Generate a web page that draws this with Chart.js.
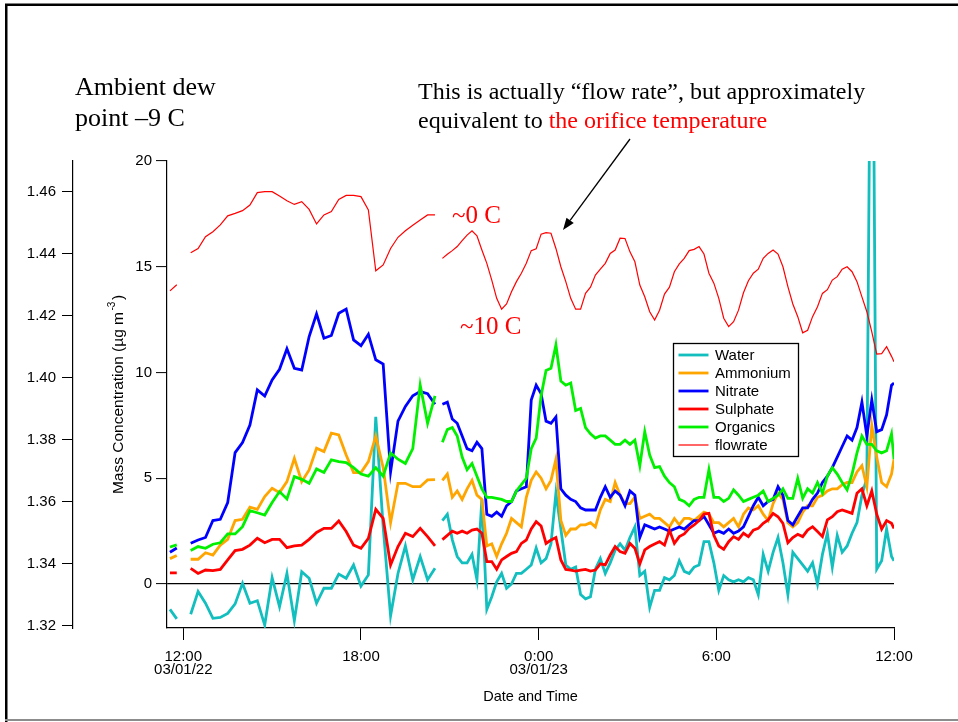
<!DOCTYPE html>
<html>
<head>
<meta charset="utf-8">
<script src="https://cdn.jsdelivr.net/npm/chart.js@4.4.1/dist/chart.umd.min.js"></script>
<style>
  html, body { margin: 0; padding: 0; background: #fff; }
  canvas { display: block; }
</style>
</head>
<body>
<canvas id="c" width="958" height="722"></canvas>
<script>
// Sample times in hours from 03/01/22 00:00.
// A short run before noon, 15-minute averages until 20:30, then 10-minute averages.
function run(start, stepMin, n) {
  const out = [];
  for (let i = 0; i < n; i++) out.push(+(start + i * stepMin / 60).toFixed(4));
  return out;
}
const sampleHours = [11.55, 11.78, 12.0, ...run(12.25, 15, 34), 20.62, ...run(20.75, 10, 92), 36.0];

// Species mass concentrations (ug m-3); null marks a break in the record.
const water = [-1.2, -1.65, null,
  -1.43, -0.36, -0.91, -1.62, -1.58, -1.39, -0.94, 0.03, -0.91, -0.79, -1.94, 0.3, -1.07, 0.5, -1.73, 0.58,
  0.27, -0.91, -0.2, -0.2, 0.47, 0.27, 0.9, -0.1, 0.43, 7.9, 2.7, -1.5, 0.5, 1.8, 0.2, 1.3, 0.2, 0.74,
  null,
  3.0, 3.3, 2.1, 1.3, 1.0, 1.0, 1.4, 0.2, 4.0, -1.2,
  -0.6, 0.1, 0.5, -0.2, 0.0, 0.5, 0.5, 0.7, 0.9, 1.7,
  1.0, 1.2, 1.9, 4.3, 2.6, 0.9, 0.7, 0.8, -0.5, -0.7,
  -0.6, 0.7, 1.2, 0.5, 1.0, 1.6, 1.9, 1.6, 2.2, 2.7,
  0.4, 0.6, -1.1, -0.3, -0.3, 0.3, 0.2, 0.4, 1.1, 0.6,
  0.5, 0.8, 0.9, 2.0, 2.0, 1.0, -0.3, 0.4, 0.2, 0.1,
  0.2, 0.1, 0.3, 0.2, -0.5, 1.4, 0.6, 1.5, 2.2, 1.0,
  -0.5, 1.5, 1.2, 0.9, 0.6, 1.0, 0.0, 1.4, 2.4, 0.8,
  2.3, 1.5, 1.8, 2.4, 2.9, 4.2, 5.0, 36, 0.7, 1.1,
  2.6, 1.3, 1.1];

const ammonium = [1.2, 1.35, null,
  1.17, 1.17, 1.48, 1.37, 1.84, 2.11, 3.0, 3.06, 3.63, 3.53, 4.13, 4.53, 4.32, 4.84, 5.94, 4.84,
  5.39, 6.42, 6.26, 7.13, 7.05, 6.1, 5.27, 5.27, 5.79, 7.0, 5.5, 2.9, 4.76, 4.76, 4.6, 4.6, 4.92, 4.94,
  null,
  4.9, 5.2, 4.1, 4.4, 4.0, 4.5, 4.9, 4.2, 4.0, 1.8,
  1.9, 1.3, 1.9, 2.4, 3.1, 2.9, 2.7, 4.1, 4.9, 5.3,
  5.0, 4.5, 4.9, 5.9, 3.0, 2.3, 2.6, 2.6, 2.8, 2.8,
  2.9, 2.7, 3.5, 4.0, 3.9, 4.8, 4.2, 3.8, 3.8, 4.1,
  3.1, 3.2, 3.3, 3.1, 3.1, 2.9, 2.7, 3.1, 2.8, 3.1,
  3.1, 3.0, 3.2, 3.4, 3.3, 2.9, 2.9, 2.7, 2.9, 3.1,
  2.7, 3.3, 3.6, 3.5, 3.7, 3.3, 3.0, 3.8, 4.3, 4.0,
  2.9, 2.7, 2.9, 3.4, 3.7, 3.7, 4.1, 4.2, 4.4, 4.5,
  4.5, 4.7, 4.8, 4.8, 5.3, 5.6, 4.6, 7.5, 6.0, 4.8,
  4.6, 5.2, 5.9];

const nitrate = [1.5, 1.7, null,
  1.93, 2.08, 2.2, 3.0, 3.06, 3.85, 6.21, 6.69, 7.52, 9.18, 8.89, 9.65, 10.15, 11.12, 10.2, 10.12,
  11.7, 12.77, 11.62, 11.75, 12.8, 13.0, 11.54, 11.27, 11.81, 10.6, 10.4, 5.3, 7.7, 8.4, 8.9, 9.1, 9.0, 8.5,
  null,
  8.5, 8.6, 7.8, 7.6, 7.0, 6.4, 6.3, 6.7, 6.4, 3.3,
  3.2, 3.4, 3.2, 3.7, 3.9, 4.4, 4.5, 4.6, 8.7, 9.4,
  9.0, 7.7, 7.6, 7.9, 4.5, 4.2, 4.0, 3.9, 3.6, 3.5,
  3.5, 3.5, 4.1, 4.6, 4.1, 4.4, 4.2, 3.7, 4.4, 4.2,
  2.2, 2.8, 2.7, 2.6, 2.7, 2.6, 2.5, 2.6, 2.7, 2.6,
  2.8, 3.0, 3.0, 3.2, 2.8, 2.4, 2.5, 2.4, 2.6, 2.4,
  2.5, 2.7, 3.2, 3.7, 4.1, 3.7, 3.9, 4.0, 4.6, 4.2,
  3.0, 2.8, 3.2, 3.6, 3.6, 4.0, 4.3, 4.8, 5.1, 5.5,
  6.0, 6.5, 7.0, 6.8, 7.4, 8.6, 7.0, 8.7, 7.2, 7.3,
  8.0, 9.4, 9.5];

const sulphate = [0.53, 0.53, null,
  0.74, 0.5, 0.66, 0.63, 0.69, 1.14, 1.58, 1.64, 1.84, 2.16, 1.95, 2.11, 2.11, 1.72, 1.8, 1.84,
  2.11, 2.44, 2.63, 2.63, 2.98, 2.48, 1.84, 1.69, 2.16, 3.53, 3.1, 0.9, 1.77, 2.4, 2.24, 2.63, 2.24, 1.8,
  null,
  2.1, 2.3, 2.5, 2.4, 2.5, 2.4, 2.55, 2.6, 2.4, 1.06,
  1.06, 0.7, 1.14, 1.3, 1.45, 1.53, 1.92, 2.08, 2.6, 2.95,
  2.74, 1.92, 2.08, 2.2, 1.14, 0.69, 0.66, 0.61, 0.66, 0.69,
  0.61, 0.66, 0.95, 0.9, 1.37, 1.77, 1.53, 1.45, 1.92, 1.69,
  0.95, 1.61, 1.77, 1.89, 2.0, 1.84, 2.55, 1.92, 2.24, 2.37,
  2.63, 2.79, 3.0, 3.31, 3.34, 2.3, 1.8, 1.64, 2.0, 2.24,
  2.11, 2.4, 2.24, 2.55, 2.63, 2.87, 3.03, 3.34, 3.18, 2.87,
  1.95, 2.2, 2.35, 2.24, 2.55, 2.71, 2.48, 2.24, 3.03, 3.18,
  3.42, 3.5, 3.42, 3.34, 4.29, 4.5, 3.7, 4.4, 3.3, 2.6,
  3.0, 2.87, 2.63];

const organics = [1.75, 1.85, null,
  1.58, 1.77, 1.69, 1.88, 1.95, 2.37, 2.37, 2.71, 3.47, 3.37, 3.26, 3.85, 4.37, 4.02, 5.08, 4.95,
  4.76, 5.44, 5.27, 5.87, 5.79, 5.74, 5.5, 5.2, 5.1, 5.5, 5.1, 6.2, 5.9, 5.7, 6.4, 9.4, 7.6, 8.9,
  null,
  6.7, 7.3, 7.4, 7.0, 6.0, 5.4, 5.7, 5.1, 4.5, 4.1,
  4.1, 4.05, 4.0, 3.9, 3.9, 4.4, 4.7, 5.0, 6.4, 6.9,
  8.9, 10.1, 10.2, 11.3, 9.6, 9.4, 9.5, 8.2, 8.3, 7.4,
  7.1, 6.9, 7.0, 7.0, 6.8, 6.6, 6.6, 6.8, 6.6, 6.8,
  5.6, 7.2, 6.1, 5.5, 5.55, 5.1, 4.8, 4.6, 4.0, 3.9,
  3.7, 4.0, 4.1, 4.1, 5.4, 4.1, 4.1, 3.9, 4.05, 4.45,
  4.2, 3.9, 4.0, 4.1, 4.2, 4.4, 3.9, 4.05, 4.2, 4.5,
  4.05, 4.05, 5.0, 4.05, 4.5, 4.3, 4.8, 4.3, 5.1, 5.5,
  5.2, 4.8, 4.45, 5.2, 6.2, 7.0, 6.6, 6.6, 6.3, 6.2,
  6.3, 7.1, 5.9];

// Inlet flow rate (left-hand axis).
const flowrate = [1.428, 1.430, null,
  1.4403, 1.4417, 1.4455, 1.4471, 1.4493, 1.4522, 1.4530, 1.4539, 1.4557, 1.4597, 1.4600, 1.4600,
  1.4586, 1.4571, 1.4559, 1.4568, 1.4543, 1.4496, 1.4525, 1.4536, 1.4575, 1.4588, 1.4588, 1.4584,
  1.4541, 1.4345, 1.4364, 1.4417, 1.4453, 1.4474, 1.4492, 1.4509, 1.4525, 1.4525,
  null,
  1.4385, 1.4398, 1.4410, 1.4423, 1.4442, 1.4460, 1.4474, 1.4458, 1.4412, 1.4369,
  1.4315, 1.4256, 1.4221, 1.4238, 1.4277, 1.4310, 1.4337, 1.4369, 1.4410, 1.4416,
  1.4463, 1.4468, 1.4466, 1.4417, 1.4358, 1.4310, 1.4256, 1.4221, 1.4221, 1.4272,
  1.4292, 1.4331, 1.4350, 1.4369, 1.4401, 1.4412, 1.4450, 1.4449, 1.4406, 1.4374,
  1.4299, 1.4261, 1.4213, 1.4186, 1.4218, 1.4270, 1.4292, 1.4342, 1.4367, 1.4385,
  1.4410, 1.4414, 1.4423, 1.4399, 1.4337, 1.4305, 1.4256, 1.4192, 1.4165, 1.4181,
  1.4218, 1.4274, 1.4313, 1.4337, 1.4350, 1.4385, 1.4401, 1.4412, 1.4399, 1.4358,
  1.4294, 1.4238, 1.4197, 1.4145, 1.4153, 1.4197, 1.4229, 1.4272, 1.4284, 1.4315,
  1.4326, 1.4350, 1.4358, 1.4342, 1.4310, 1.4261, 1.4213, 1.4148, 1.4076, 1.4078,
  1.4100, 1.4069, 1.4052];

// Axis ticks
const timeTicks = [12, 18, 24, 30, 36];
const timeTickLabels = [['12:00', '03/01/22'], ['18:00'], ['0:00', '03/01/23'], ['6:00'], ['12:00']];
const massTicks = [0, 5, 10, 15, 20];
const flowTicks = [1.32, 1.34, 1.36, 1.38, 1.40, 1.42, 1.44, 1.46];

const SANS = '"Liberation Sans", Arial, Helvetica, sans-serif';
const SERIF = '"Liberation Serif", "Times New Roman", Times, serif';
Chart.defaults.font.family = SANS;
Chart.defaults.color = '#000';

const toPoints = arr => arr.map((v, i) => ({ x: sampleHours[i], y: v }));

function series(label, values, color, width, axis, order) {
  return {
    label, data: toPoints(values), borderColor: color, backgroundColor: color,
    borderWidth: width, yAxisID: axis, order, spanGaps: false,
    pointRadius: 0, tension: 0, fill: false, borderJoinStyle: 'miter'
  };
}

// Free text, arrow, legend box, frame and the rotated y title.
const decorations = {
  id: 'decorations',
  afterDraw(chart) {
    const ctx = chart.ctx;
    ctx.save();

    // page frame
    ctx.strokeStyle = '#000';
    ctx.lineWidth = 2.5;
    ctx.beginPath();
    ctx.moveTo(6.25, 722); ctx.lineTo(6.25, 4.75); ctx.lineTo(958, 4.75);
    ctx.stroke();
    ctx.strokeStyle = '#8c8c8c';
    ctx.lineWidth = 2;
    ctx.beginPath(); ctx.moveTo(5, 720); ctx.lineTo(958, 720); ctx.stroke();

    // notes
    ctx.fillStyle = '#000';
    ctx.textBaseline = 'alphabetic';
    ctx.textAlign = 'left';
    ctx.font = '26px ' + SERIF;
    ctx.fillText('Ambient dew', 75, 95);
    ctx.fillText('point \u20139 C', 75, 126);

    ctx.font = '24px ' + SERIF;
    ctx.fillText('This is actually \u201Cflow rate\u201D, but approximately', 418, 99);
    const lead = 'equivalent to ';
    ctx.fillText(lead, 418, 128);
    ctx.fillStyle = '#ff0000';
    ctx.fillText('the orifice temperature', 418 + ctx.measureText(lead).width, 128);

    ctx.font = '25px ' + SERIF;
    ctx.fillText('~0 C', 452, 223);
    ctx.fillText('~10 C', 460, 334);

    // arrow
    const x0 = 630, y0 = 139, x1 = 563, y1 = 230;
    const ang = Math.atan2(y1 - y0, x1 - x0);
    const headL = 12, headW = 4.5;
    const bx = x1 - headL * Math.cos(ang), by = y1 - headL * Math.sin(ang);
    ctx.strokeStyle = '#000'; ctx.fillStyle = '#000'; ctx.lineWidth = 1.3;
    ctx.beginPath(); ctx.moveTo(x0, y0); ctx.lineTo(bx, by); ctx.stroke();
    ctx.beginPath();
    ctx.moveTo(x1, y1);
    ctx.lineTo(bx + headW * Math.sin(ang), by - headW * Math.cos(ang));
    ctx.lineTo(bx - headW * Math.sin(ang), by + headW * Math.cos(ang));
    ctx.closePath(); ctx.fill();

    // legend
    const lx = 673.5, ly = 343.5, lw = 125, lh = 113;
    ctx.fillStyle = '#fff';
    ctx.fillRect(lx, ly, lw, lh);
    ctx.strokeStyle = '#000'; ctx.lineWidth = 1.3;
    ctx.strokeRect(lx, ly, lw, lh);
    ctx.font = '15px ' + SANS;
    ctx.textBaseline = 'middle';
    chart.data.datasets.forEach((ds, i) => {
      const y = 355 + i * 18;
      ctx.strokeStyle = ds.borderColor;
      ctx.lineWidth = ds.borderWidth;
      ctx.beginPath(); ctx.moveTo(678.5, y); ctx.lineTo(708.5, y); ctx.stroke();
      ctx.fillStyle = '#000';
      ctx.fillText(ds.label, 715, y + 0.5);
    });

    // rotated y title with superscript
    ctx.translate(117, 394.5);
    ctx.rotate(-Math.PI / 2);
    ctx.textBaseline = 'alphabetic';
    const main = 'Mass Concentration (\u00B5g m', sup = '-3', tail = ')';
    ctx.font = '15.5px ' + SANS;
    const w1 = ctx.measureText(main).width, w3 = ctx.measureText(tail).width;
    ctx.font = '10px ' + SANS;
    const w2 = ctx.measureText(sup).width;
    let tx = -(w1 + w2 + w3 + 3) / 2;
    ctx.fillStyle = '#000';
    ctx.font = '15.5px ' + SANS;
    ctx.fillText(main, tx, 5.5);
    tx += w1 + 1.5;
    ctx.font = '10px ' + SANS;
    ctx.fillText(sup, tx, -2.5);
    tx += w2 + 1.5;
    ctx.font = '15.5px ' + SANS;
    ctx.fillText(tail, tx, 5.5);

    ctx.restore();
  }
};

const axisGrid = (len) => ({
  display: true, drawOnChartArea: false, drawTicks: true,
  tickLength: len, tickColor: '#000', tickWidth: 1
});

new Chart(document.getElementById('c'), {
  type: 'line',
  data: {
    datasets: [
      series('Water', water, '#12bebe', 2.8, 'yMass', 6),
      series('Ammonium', ammonium, '#ffa500', 2.8, 'yMass', 5),
      series('Nitrate', nitrate, '#0000ff', 2.8, 'yMass', 4),
      series('Sulphate', sulphate, '#ff0000', 2.8, 'yMass', 3),
      series('Organics', organics, '#00f000', 2.8, 'yMass', 2),
      series('flowrate', flowrate, '#ff0000', 1.2, 'yFlow', 1)
    ]
  },
  options: {
    responsive: false,
    animation: false,
    devicePixelRatio: 1,
    layout: { padding: { left: 0, right: 64, top: 161, bottom: 14 } },
    plugins: { legend: { display: false }, tooltip: { enabled: false } },
    scales: {
      x: {
        type: 'linear', position: 'bottom', min: 11.45, max: 36,
        afterBuildTicks: s => { s.ticks = timeTicks.map(v => ({ value: v })); },
        afterFit: s => { s.height = 80; },
        grid: axisGrid(12),
        border: { display: true, color: '#000', width: 1.2 },
        ticks: {
          autoSkip: false, maxRotation: 0, minRotation: 0, padding: 10, color: '#000',
          font: { size: 15, lineHeight: 0.9 },
          callback: v => timeTickLabels[timeTicks.indexOf(v)] || ''
        },
        title: { display: true, text: 'Date and Time', color: '#000',
                 font: { size: 14.5 }, padding: { top: 0, bottom: 2.6 } }
      },
      yMass: {
        type: 'linear', position: 'left', min: -2.08, max: 20, weight: 0,
        afterBuildTicks: s => { s.ticks = massTicks.map(v => ({ value: v })); },
        afterFit: s => { s.width = 94; },
        grid: {
          display: true, drawOnChartArea: true, drawTicks: true,
          color: c => (c.tick && c.tick.value === 0) ? '#000' : 'rgba(0,0,0,0)',
          lineWidth: 1.2, tickLength: 11, tickColor: '#000', tickWidth: 1
        },
        border: { display: true, color: '#000', width: 1.2 },
        ticks: { padding: 4, color: '#000', font: { size: 15 } }
      },
      yFlow: {
        type: 'linear', position: 'left', min: 1.3193, max: 1.4699, weight: 1,
        afterBuildTicks: s => { s.ticks = flowTicks.map(v => ({ value: v })); },
        afterFit: s => { s.width = 73; },
        grid: axisGrid(11),
        border: { display: true, color: '#000', width: 1.2 },
        ticks: { padding: 6, color: '#000', font: { size: 15 }, callback: v => v.toFixed(2) }
      }
    }
  },
  plugins: [decorations]
});
</script>
</body>
</html>
